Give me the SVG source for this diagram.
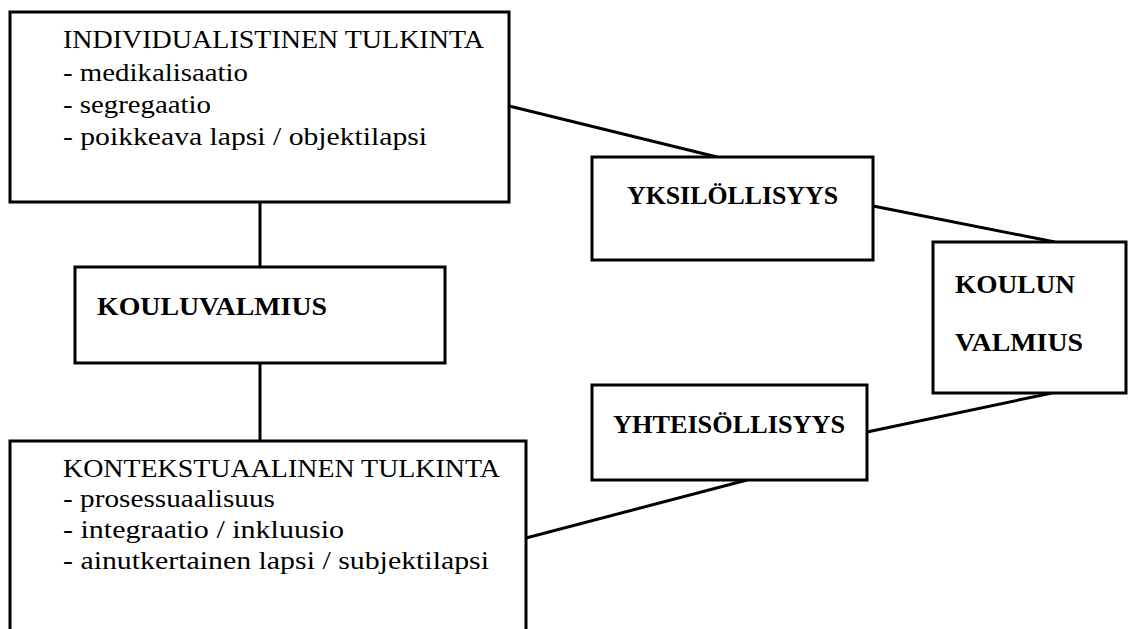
<svg xmlns="http://www.w3.org/2000/svg" width="1129" height="629" viewBox="0 0 1129 629">
  <style>
    .box { fill: #ffffff; stroke: #000000; stroke-width: 3; }
    .link { stroke: #000000; stroke-width: 3; fill: none; }
    .body { font-family: "Liberation Serif", "Times New Roman", serif; font-size: 25.5px; fill: #000000; }
    .head { font-family: "Liberation Serif", "Times New Roman", serif; font-size: 25.5px; font-weight: bold; fill: #000000; }
  </style>
  <rect width="1129" height="629" fill="#ffffff"/>

  <!-- connectors -->
  <g id="connectors">
    <line class="link" x1="260" y1="202" x2="260" y2="267"/>
    <line class="link" x1="260" y1="363" x2="260" y2="441"/>
    <line class="link" x1="509" y1="106" x2="717" y2="157"/>
    <line class="link" x1="873" y1="206" x2="1055" y2="242"/>
    <line class="link" x1="867" y1="432" x2="1052" y2="393"/>
    <line class="link" x1="526" y1="538" x2="747" y2="480"/>
  </g>

  <g id="individualistinen">
    <rect class="box" x="10" y="12" width="499" height="190"/>
    <text class="body" x="63" y="48" textLength="421" lengthAdjust="spacingAndGlyphs">INDIVIDUALISTINEN TULKINTA</text>
    <text class="body" x="63" y="81" textLength="185" lengthAdjust="spacingAndGlyphs">- medikalisaatio</text>
    <text class="body" x="63" y="113" textLength="148" lengthAdjust="spacingAndGlyphs">- segregaatio</text>
    <text class="body" x="63" y="145" textLength="364" lengthAdjust="spacingAndGlyphs">- poikkeava lapsi / objektilapsi</text>
  </g>

  <g id="kouluvalmius">
    <rect class="box" x="75" y="267" width="370" height="96"/>
    <text class="head" x="97" y="315" textLength="230" lengthAdjust="spacingAndGlyphs">KOULUVALMIUS</text>
  </g>

  <g id="kontekstuaalinen">
    <rect class="box" x="10" y="441" width="516" height="240"/>
    <text class="body" x="63" y="477" textLength="437" lengthAdjust="spacingAndGlyphs">KONTEKSTUAALINEN TULKINTA</text>
    <text class="body" x="63" y="507" textLength="212" lengthAdjust="spacingAndGlyphs">- prosessuaalisuus</text>
    <text class="body" x="63" y="538" textLength="281" lengthAdjust="spacingAndGlyphs">- integraatio / inkluusio</text>
    <text class="body" x="63" y="569" textLength="426" lengthAdjust="spacingAndGlyphs">- ainutkertainen lapsi / subjektilapsi</text>
  </g>

  <g id="yksilollisyys">
    <rect class="box" x="592" y="157" width="281" height="103"/>
    <text class="head" x="627" y="204" textLength="211" lengthAdjust="spacingAndGlyphs">YKSILÖLLISYYS</text>
  </g>

  <g id="yhteisollisyys">
    <rect class="box" x="592" y="385" width="275" height="95"/>
    <text class="head" x="613" y="433" textLength="232" lengthAdjust="spacingAndGlyphs">YHTEISÖLLISYYS</text>
  </g>

  <g id="koulun-valmius">
    <rect class="box" x="933" y="242" width="193" height="151"/>
    <text class="head" x="955" y="293" textLength="120" lengthAdjust="spacingAndGlyphs">KOULUN</text>
    <text class="head" x="955" y="351" textLength="128" lengthAdjust="spacingAndGlyphs">VALMIUS</text>
  </g>
</svg>
